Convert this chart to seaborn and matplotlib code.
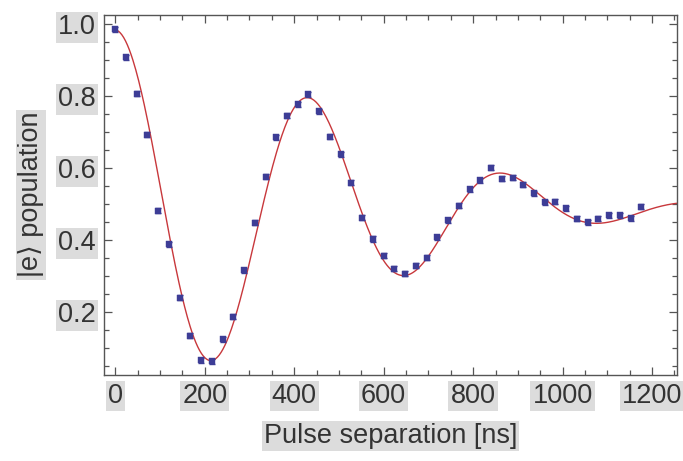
import numpy as np
import pandas as pd
import matplotlib
matplotlib.use("Agg")
import matplotlib.pyplot as plt
import seaborn as sns
from matplotlib.ticker import MultipleLocator, FixedLocator

# Ramsey fringe: excited-state population vs. pulse separation
pulse_sep_ns = [0, 24, 48, 72, 96, 120, 144, 168, 192, 216,
                240, 264, 288, 312, 336, 360, 384, 408, 432, 456,
                480, 504, 528, 552, 576, 600, 624, 648, 672, 696,
                720, 744, 768, 792, 816, 840, 864, 888, 912, 936,
                960, 984, 1008, 1032, 1056, 1080, 1104, 1128, 1152, 1176]
population = [0.986, 0.909, 0.808, 0.694, 0.483, 0.389, 0.241, 0.135, 0.067, 0.064,
              0.126, 0.188, 0.317, 0.449, 0.577, 0.687, 0.747, 0.778, 0.806, 0.759,
              0.688, 0.639, 0.560, 0.463, 0.404, 0.358, 0.322, 0.308, 0.330, 0.352,
              0.409, 0.456, 0.496, 0.542, 0.567, 0.602, 0.572, 0.574, 0.555, 0.531,
              0.506, 0.508, 0.490, 0.460, 0.451, 0.460, 0.470, 0.470, 0.462, 0.494]
population_err = 0.007

# Damped-cosine fit parameters
fit_offset = 0.49
fit_amplitude = 0.495
fit_period_ns = 438.0
fit_t_exp_ns = 3000.0
fit_t_gauss_ns = 750.0

x_ticks = [0, 200, 400, 600, 800, 1000, 1200]
y_ticks = [0.2, 0.4, 0.6, 0.8, 1.0]
x_limits = (-25, 1255)
y_limits = (0.027, 1.027)

sns.set_theme(style="ticks")
plt.rcParams["font.family"] = ["Liberation Sans", "DejaVu Sans"]

data = pd.DataFrame({"t": pulse_sep_ns, "p": population})

t_fit = np.linspace(0, x_limits[1], 600)
p_fit = fit_offset + fit_amplitude * np.exp(-t_fit / fit_t_exp_ns - (t_fit / fit_t_gauss_ns) ** 2) \
    * np.cos(2 * np.pi * t_fit / fit_period_ns)
fit = pd.DataFrame({"t": t_fit, "p": p_fit})

fig = plt.figure(figsize=(6.83, 4.61), dpi=100)
ax = fig.add_axes([0.1523, 0.1872, 0.8385, 0.7809])

point_color = "#3d3d96"
line_color = "#c8383c"
text_color = "#333333"

sns.lineplot(data=fit, x="t", y="p", ax=ax, color=line_color, linewidth=1.0, zorder=2)
ax.errorbar(data["t"], data["p"], yerr=population_err, fmt="none",
            ecolor=point_color, elinewidth=1.0, capsize=2.5, capthick=1.0, zorder=3)
sns.scatterplot(data=data, x="t", y="p", ax=ax, marker="s", s=22, color=point_color,
                edgecolor=point_color, linewidth=0.3, zorder=4)

ax.set_xlim(*x_limits)
ax.set_ylim(*y_limits)
ax.xaxis.set_major_locator(FixedLocator(x_ticks))
ax.yaxis.set_major_locator(FixedLocator(y_ticks))
ax.xaxis.set_minor_locator(MultipleLocator(50))
ax.yaxis.set_minor_locator(MultipleLocator(0.05))
ax.set_xticklabels([str(v) for v in x_ticks])
ax.set_yticklabels([f"{v:.1f}" for v in y_ticks])

spine_color = "#555555"
for s in ax.spines.values():
    s.set_color(spine_color)
    s.set_linewidth(1.0)
ax.tick_params(which="both", direction="in", top=True, right=True,
               color=spine_color, width=0.9)
ax.tick_params(which="major", length=6, pad=6, labelsize=19.5, labelcolor=text_color)
ax.tick_params(which="minor", length=3.5)

box = dict(facecolor="#dcdcdc", edgecolor="none", pad=1.6)
for lab in ax.get_xticklabels() + ax.get_yticklabels():
    lab.set_bbox(box)

ax.set_xlabel("Pulse separation [ns]", fontsize=19.5, color=text_color, labelpad=10,
              bbox=box)
ax.set_ylabel("|e\u27e9 population", fontsize=19.5, color=text_color, labelpad=10,
              bbox=box)

fig.savefig("out.png", dpi=100)
